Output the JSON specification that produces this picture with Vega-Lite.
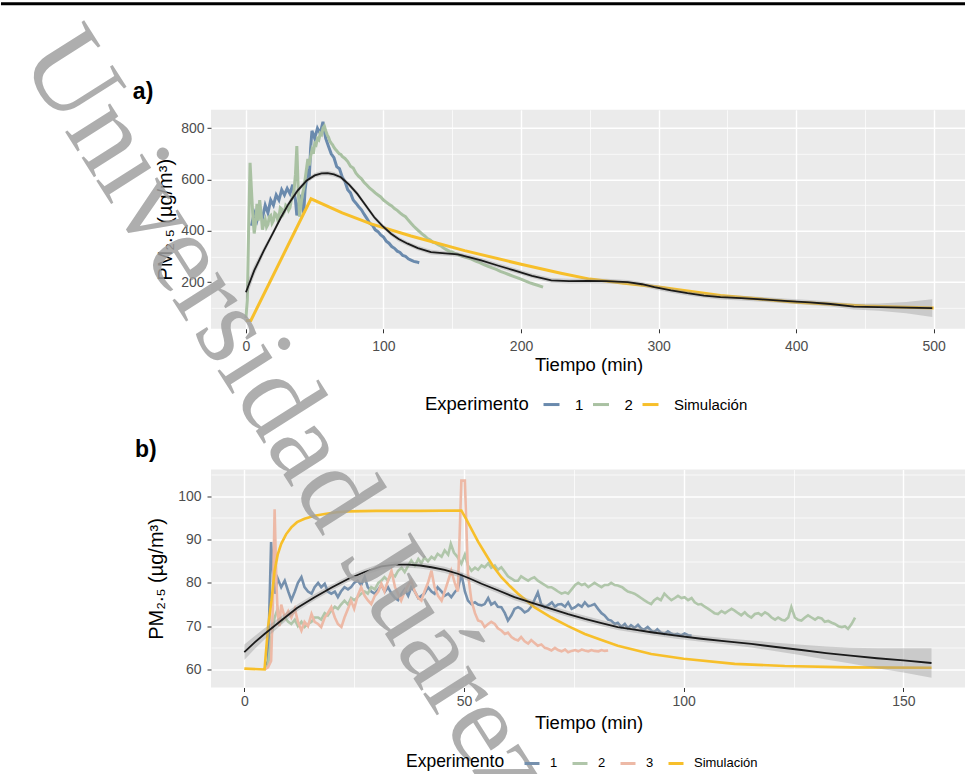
{
"$schema": "https://vega.github.io/schema/vega-lite/v6.json",
"background": "white",
"padding": {"left": -1, "top": 1.8, "right": 0, "bottom": 0},
"bounds": "flush",
"spacing": 140.7,
"resolve": {"scale": {"color": "independent"}, "legend": {"color": "independent"}},
"config": {
 "font": "Liberation Sans",
 "view": {"fill": "#EBEBEB", "stroke": null},
 "axis": {"domain": false, "tickColor": "#333333", "tickSize": 4, "tickWidth": 1, "labelColor": "#4D4D4D", "labelFontSize": 14, "titleFontSize": 18.5, "titleFontWeight": "normal", "titleColor": "#000000", "gridColor": "#FFFFFF", "labelOverlap": false, "labelFlush": false}
},
"datasets": {
 "a_obs": [
  {"s":"1","t":4,"v":420},{"s":"1","t":6,"v":470},{"s":"1","t":8,"v":440},{"s":"1","t":10,"v":480},{"s":"1","t":12,"v":450},{"s":"1","t":14,"v":500},{"s":"1","t":16,"v":470},{"s":"1","t":18,"v":520},{"s":"1","t":20,"v":500},{"s":"1","t":22,"v":540},{"s":"1","t":24,"v":520},{"s":"1","t":26,"v":560},{"s":"1","t":28,"v":540},{"s":"1","t":30,"v":565},{"s":"1","t":32,"v":545},{"s":"1","t":34,"v":580},{"s":"1","t":36,"v":520},{"s":"1","t":37,"v":460},{"s":"1","t":38,"v":500},{"s":"1","t":40,"v":540},{"s":"1","t":42,"v":470},{"s":"1","t":43,"v":560},{"s":"1","t":45,"v":640},{"s":"1","t":46,"v":600},{"s":"1","t":47,"v":720},{"s":"1","t":48,"v":790},{"s":"1","t":50,"v":760},{"s":"1","t":52,"v":800},{"s":"1","t":54,"v":780},{"s":"1","t":56,"v":825},{"s":"1","t":57,"v":790},{"s":"1","t":58,"v":760},{"s":"1","t":60,"v":730},{"s":"1","t":62,"v":700},{"s":"1","t":64,"v":685},{"s":"1","t":66,"v":650},{"s":"1","t":68,"v":642},{"s":"1","t":70,"v":610},{"s":"1","t":72,"v":592},{"s":"1","t":74,"v":560},{"s":"1","t":76,"v":548},{"s":"1","t":78,"v":520},{"s":"1","t":80,"v":508},{"s":"1","t":82,"v":494},{"s":"1","t":84,"v":482},{"s":"1","t":86,"v":464},{"s":"1","t":88,"v":448},{"s":"1","t":90,"v":430},{"s":"1","t":92,"v":422},{"s":"1","t":94,"v":404},{"s":"1","t":96,"v":397},{"s":"1","t":98,"v":384},{"s":"1","t":100,"v":376},{"s":"1","t":102,"v":360},{"s":"1","t":104,"v":352},{"s":"1","t":106,"v":339},{"s":"1","t":108,"v":332},{"s":"1","t":110,"v":321},{"s":"1","t":112,"v":316},{"s":"1","t":114,"v":304},{"s":"1","t":116,"v":301},{"s":"1","t":118,"v":291},{"s":"1","t":120,"v":286},{"s":"1","t":122,"v":281},{"s":"1","t":124,"v":279},{"s":"1","t":126,"v":276},
  {"s":"2","t":0,"v":60},{"s":"2","t":1,"v":130},{"s":"2","t":2,"v":420},{"s":"2","t":3,"v":665},{"s":"2","t":4,"v":560},{"s":"2","t":5,"v":460},{"s":"2","t":6,"v":390},{"s":"2","t":7,"v":430},{"s":"2","t":8,"v":505},{"s":"2","t":9,"v":440},{"s":"2","t":10,"v":520},{"s":"2","t":11,"v":470},{"s":"2","t":12,"v":405},{"s":"2","t":13,"v":430},{"s":"2","t":14,"v":445},{"s":"2","t":15,"v":415},{"s":"2","t":16,"v":425},{"s":"2","t":17,"v":455},{"s":"2","t":18,"v":460},{"s":"2","t":19,"v":430},{"s":"2","t":20,"v":440},{"s":"2","t":21,"v":470},{"s":"2","t":22,"v":465},{"s":"2","t":23,"v":445},{"s":"2","t":24,"v":455},{"s":"2","t":25,"v":490},{"s":"2","t":26,"v":485},{"s":"2","t":27,"v":465},{"s":"2","t":28,"v":475},{"s":"2","t":29,"v":500},{"s":"2","t":30,"v":495},{"s":"2","t":31,"v":480},{"s":"2","t":32,"v":490},{"s":"2","t":33,"v":520},{"s":"2","t":34,"v":535},{"s":"2","t":35,"v":560},{"s":"2","t":36,"v":620},{"s":"2","t":37,"v":730},{"s":"2","t":38,"v":560},{"s":"2","t":39,"v":455},{"s":"2","t":40,"v":500},{"s":"2","t":41,"v":540},{"s":"2","t":42,"v":565},{"s":"2","t":43,"v":600},{"s":"2","t":44,"v":640},{"s":"2","t":45,"v":680},{"s":"2","t":46,"v":655},{"s":"2","t":47,"v":690},{"s":"2","t":48,"v":715},{"s":"2","t":49,"v":700},{"s":"2","t":50,"v":740},{"s":"2","t":51,"v":735},{"s":"2","t":52,"v":760},{"s":"2","t":53,"v":755},{"s":"2","t":54,"v":780},{"s":"2","t":55,"v":775},{"s":"2","t":56,"v":800},{"s":"2","t":57,"v":808},{"s":"2","t":58,"v":790},{"s":"2","t":59,"v":775},{"s":"2","t":60,"v":765},{"s":"2","t":61,"v":750},{"s":"2","t":62,"v":742},{"s":"2","t":63,"v":735},{"s":"2","t":64,"v":725},{"s":"2","t":65,"v":718},{"s":"2","t":66,"v":712},{"s":"2","t":67,"v":705},{"s":"2","t":68,"v":700},{"s":"2","t":69,"v":698},{"s":"2","t":70,"v":690},{"s":"2","t":72,"v":682},{"s":"2","t":74,"v":670},{"s":"2","t":76,"v":652},{"s":"2","t":78,"v":645},{"s":"2","t":80,"v":625},{"s":"2","t":82,"v":612},{"s":"2","t":84,"v":603},{"s":"2","t":86,"v":588},{"s":"2","t":88,"v":578},{"s":"2","t":90,"v":566},{"s":"2","t":92,"v":558},{"s":"2","t":94,"v":548},{"s":"2","t":96,"v":540},{"s":"2","t":98,"v":532},{"s":"2","t":100,"v":520},{"s":"2","t":102,"v":512},{"s":"2","t":104,"v":504},{"s":"2","t":106,"v":497},{"s":"2","t":108,"v":487},{"s":"2","t":110,"v":480},{"s":"2","t":112,"v":470},{"s":"2","t":114,"v":462},{"s":"2","t":116,"v":455},{"s":"2","t":118,"v":442},{"s":"2","t":120,"v":430},{"s":"2","t":122,"v":418},{"s":"2","t":124,"v":408},{"s":"2","t":126,"v":398},{"s":"2","t":128,"v":388},{"s":"2","t":130,"v":380},{"s":"2","t":132,"v":370},{"s":"2","t":134,"v":364},{"s":"2","t":136,"v":355},{"s":"2","t":138,"v":352},{"s":"2","t":140,"v":345},{"s":"2","t":142,"v":340},{"s":"2","t":144,"v":332},{"s":"2","t":146,"v":326},{"s":"2","t":148,"v":320},{"s":"2","t":150,"v":318},{"s":"2","t":152,"v":312},{"s":"2","t":155,"v":306},{"s":"2","t":158,"v":300},{"s":"2","t":161,"v":295},{"s":"2","t":164,"v":290},{"s":"2","t":167,"v":282},{"s":"2","t":170,"v":276},{"s":"2","t":173,"v":268},{"s":"2","t":176,"v":262},{"s":"2","t":179,"v":256},{"s":"2","t":182,"v":250},{"s":"2","t":185,"v":242},{"s":"2","t":188,"v":236},{"s":"2","t":191,"v":230},{"s":"2","t":194,"v":224},{"s":"2","t":197,"v":218},{"s":"2","t":200,"v":212},{"s":"2","t":203,"v":205},{"s":"2","t":206,"v":198},{"s":"2","t":209,"v":193},{"s":"2","t":212,"v":188},{"s":"2","t":216,"v":181},
  {"s":"Simulación","t":0,"v":51},{"s":"Simulación","t":3.6,"v":51},{"s":"Simulación","t":47.3,"v":525},{"s":"Simulación","t":70,"v":470},{"s":"Simulación","t":91,"v":427},{"s":"Simulación","t":120,"v":380},{"s":"Simulación","t":159,"v":323},{"s":"Simulación","t":200,"v":270},{"s":"Simulación","t":229,"v":235},{"s":"Simulación","t":250,"v":212},{"s":"Simulación","t":275,"v":196},{"s":"Simulación","t":300,"v":181},{"s":"Simulación","t":345,"v":148},{"s":"Simulación","t":400,"v":122},{"s":"Simulación","t":450,"v":107},{"s":"Simulación","t":500,"v":99}
 ],
 "a_fit": [
  {"t":0,"fit":161,"lo":133,"hi":189},{"t":6,"fit":245,"lo":225,"hi":265},{"t":13,"fit":323,"lo":309,"hi":337},{"t":20,"fit":395,"lo":385,"hi":405},{"t":25.5,"fit":453,"lo":443,"hi":463},{"t":31,"fit":505,"lo":495,"hi":515},{"t":37.6,"fit":557,"lo":547,"hi":567},{"t":44,"fit":595,"lo":586,"hi":604},{"t":50,"fit":616,"lo":607,"hi":625},{"t":55,"fit":624,"lo":615,"hi":633},{"t":59.4,"fit":625,"lo":616,"hi":634},{"t":64,"fit":620,"lo":611,"hi":629},{"t":69,"fit":609,"lo":600,"hi":618},{"t":75,"fit":580,"lo":571,"hi":589},{"t":81,"fit":544,"lo":535,"hi":553},{"t":87,"fit":500,"lo":491,"hi":509},{"t":93.3,"fit":453,"lo":444,"hi":462},{"t":99,"fit":420,"lo":411,"hi":429},{"t":105.5,"fit":389,"lo":380,"hi":398},{"t":111,"fit":368,"lo":359,"hi":377},{"t":117.6,"fit":350,"lo":341,"hi":359},{"t":125,"fit":333,"lo":324,"hi":342},{"t":134.5,"fit":317,"lo":308,"hi":326},{"t":145,"fit":312,"lo":303,"hi":321},{"t":154,"fit":308,"lo":299,"hi":317},{"t":162,"fit":298,"lo":289,"hi":307},{"t":171,"fit":285,"lo":276,"hi":294},{"t":183,"fit":265,"lo":256,"hi":274},{"t":195,"fit":246,"lo":237,"hi":255},{"t":208,"fit":225,"lo":216,"hi":234},{"t":222,"fit":207,"lo":198,"hi":216},{"t":235,"fit":204,"lo":195,"hi":213},{"t":248.5,"fit":205,"lo":196,"hi":214},{"t":262,"fit":204,"lo":195,"hi":213},{"t":277.6,"fit":200,"lo":191,"hi":209},{"t":288,"fit":192,"lo":183,"hi":201},{"t":297,"fit":181,"lo":172,"hi":190},{"t":309,"fit":168,"lo":159,"hi":177},{"t":321,"fit":157,"lo":148,"hi":166},{"t":333,"fit":148,"lo":139,"hi":157},{"t":345,"fit":142,"lo":133,"hi":151},{"t":360,"fit":138,"lo":129,"hi":147},{"t":375,"fit":133,"lo":124,"hi":142},{"t":394,"fit":126,"lo":117,"hi":135},{"t":410,"fit":121,"lo":111,"hi":131},{"t":425,"fit":115,"lo":105,"hi":125},{"t":442,"fit":105,"lo":94,"hi":116},{"t":460,"fit":103,"lo":89,"hi":117},{"t":480,"fit":101,"lo":79,"hi":123},{"t":499,"fit":99,"lo":64,"hi":134}
 ],
 "b_obs": [
  {"s":"1","t":4.6,"v":60},{"s":"1","t":5.4,"v":62},{"s":"1","t":6.1,"v":89.4},{"s":"1","t":6.9,"v":77.5},{"s":"1","t":7.6,"v":81},{"s":"1","t":8.4,"v":79},{"s":"1","t":9.2,"v":80.5},{"s":"1","t":10,"v":78},{"s":"1","t":10.7,"v":76},{"s":"1","t":11.5,"v":78},{"s":"1","t":12.2,"v":80},{"s":"1","t":13,"v":81.3},{"s":"1","t":13.7,"v":79},{"s":"1","t":14.5,"v":78},{"s":"1","t":15.3,"v":77.5},{"s":"1","t":16,"v":79},{"s":"1","t":16.8,"v":80},{"s":"1","t":17.5,"v":79},{"s":"1","t":18.3,"v":79.8},{"s":"1","t":19,"v":78},{"s":"1","t":19.8,"v":77.5},{"s":"1","t":20.6,"v":78},{"s":"1","t":21.3,"v":76.7},{"s":"1","t":22,"v":78},{"s":"1","t":22.8,"v":79},{"s":"1","t":23.6,"v":78.5},{"s":"1","t":24.3,"v":79},{"s":"1","t":25,"v":80},{"s":"1","t":25.8,"v":80.5},{"s":"1","t":26.6,"v":79.5},{"s":"1","t":27.4,"v":81.3},{"s":"1","t":28.1,"v":79},{"s":"1","t":28.9,"v":78},{"s":"1","t":29.7,"v":77.5},{"s":"1","t":30.5,"v":78.5},{"s":"1","t":31.2,"v":79.5},{"s":"1","t":32,"v":78},{"s":"1","t":32.7,"v":79},{"s":"1","t":33.5,"v":77.5},{"s":"1","t":34.3,"v":76.5},{"s":"1","t":35,"v":76},{"s":"1","t":35.8,"v":77.5},{"s":"1","t":36.5,"v":78.5},{"s":"1","t":37.3,"v":77},{"s":"1","t":38,"v":79},{"s":"1","t":38.8,"v":78},{"s":"1","t":39.6,"v":76.5},{"s":"1","t":40.3,"v":77},{"s":"1","t":41,"v":77.5},{"s":"1","t":41.8,"v":79},{"s":"1","t":42.6,"v":78},{"s":"1","t":43.3,"v":77.5},{"s":"1","t":44,"v":79},{"s":"1","t":44.9,"v":78},{"s":"1","t":45.6,"v":77},{"s":"1","t":46.4,"v":77.5},{"s":"1","t":47.1,"v":76.7},{"s":"1","t":48,"v":78},{"s":"1","t":48.6,"v":78.5},{"s":"1","t":49.4,"v":82.1},{"s":"1","t":50.2,"v":78},{"s":"1","t":50.9,"v":75.9},{"s":"1","t":51.7,"v":75.1},{"s":"1","t":52.5,"v":75.5},{"s":"1","t":53.2,"v":75},{"s":"1","t":54,"v":74.8},{"s":"1","t":54.7,"v":75.1},{"s":"1","t":55.5,"v":76.5},{"s":"1","t":56.2,"v":75},{"s":"1","t":57,"v":75.5},{"s":"1","t":57.7,"v":74.5},{"s":"1","t":58.5,"v":74.4},{"s":"1","t":59.3,"v":73},{"s":"1","t":60,"v":71.3},{"s":"1","t":60.8,"v":72.5},{"s":"1","t":61.5,"v":74},{"s":"1","t":62.3,"v":74.4},{"s":"1","t":63,"v":74},{"s":"1","t":63.8,"v":73.2},{"s":"1","t":64.6,"v":73.6},{"s":"1","t":65.3,"v":74.5},{"s":"1","t":66,"v":76},{"s":"1","t":66.8,"v":77.8},{"s":"1","t":67.6,"v":75},{"s":"1","t":68.4,"v":74.4},{"s":"1","t":69.1,"v":74.8},{"s":"1","t":70,"v":75.5},{"s":"1","t":70.7,"v":74.5},{"s":"1","t":71.4,"v":75},{"s":"1","t":72.2,"v":75.1},{"s":"1","t":73,"v":74.5},{"s":"1","t":73.7,"v":75.5},{"s":"1","t":74.5,"v":74},{"s":"1","t":75.3,"v":74.4},{"s":"1","t":76,"v":75},{"s":"1","t":76.8,"v":74.5},{"s":"1","t":77.5,"v":75.5},{"s":"1","t":78.3,"v":74.6},{"s":"1","t":79,"v":74.8},{"s":"1","t":79.7,"v":75.1},{"s":"1","t":80.5,"v":74},{"s":"1","t":81.3,"v":73},{"s":"1","t":82,"v":72.5},{"s":"1","t":82.8,"v":71.5},{"s":"1","t":83.5,"v":71.3},{"s":"1","t":84.3,"v":70.5},{"s":"1","t":85,"v":70.8},{"s":"1","t":85.8,"v":69.8},{"s":"1","t":86.6,"v":70.5},{"s":"1","t":87.3,"v":69.5},{"s":"1","t":88,"v":70.2},{"s":"1","t":88.8,"v":69.6},{"s":"1","t":89.6,"v":70.3},{"s":"1","t":90.3,"v":69.5},{"s":"1","t":91,"v":69.2},{"s":"1","t":91.8,"v":69.8},{"s":"1","t":92.6,"v":69},{"s":"1","t":93.3,"v":68.6},{"s":"1","t":94,"v":69.3},{"s":"1","t":94.8,"v":68.5},{"s":"1","t":95.6,"v":68.2},{"s":"1","t":96.4,"v":68.8},{"s":"1","t":97,"v":68.4},{"s":"1","t":97.8,"v":68},{"s":"1","t":98.6,"v":68.2},{"s":"1","t":99.4,"v":67.8},{"s":"1","t":100.2,"v":68.3},{"s":"1","t":101,"v":67.9},{"s":"1","t":101.8,"v":67.8},
  {"s":"2","t":4.6,"v":60},{"s":"2","t":5.4,"v":61},{"s":"2","t":6.2,"v":68},{"s":"2","t":6.9,"v":72},{"s":"2","t":7.6,"v":74},{"s":"2","t":8.4,"v":71},{"s":"2","t":9.2,"v":72},{"s":"2","t":10,"v":71},{"s":"2","t":10.7,"v":70.5},{"s":"2","t":11.5,"v":71.5},{"s":"2","t":12.2,"v":70},{"s":"2","t":13,"v":71},{"s":"2","t":13.7,"v":69.8},{"s":"2","t":14.5,"v":70.5},{"s":"2","t":15.3,"v":71},{"s":"2","t":16,"v":72},{"s":"2","t":16.8,"v":72},{"s":"2","t":17.5,"v":71.5},{"s":"2","t":18.3,"v":73},{"s":"2","t":19,"v":72.5},{"s":"2","t":19.8,"v":73.6},{"s":"2","t":20.6,"v":74.5},{"s":"2","t":21.3,"v":74},{"s":"2","t":22,"v":75},{"s":"2","t":22.8,"v":75.9},{"s":"2","t":23.6,"v":75},{"s":"2","t":24.3,"v":76.5},{"s":"2","t":25,"v":76},{"s":"2","t":25.8,"v":76.7},{"s":"2","t":26.6,"v":77.5},{"s":"2","t":27.4,"v":78},{"s":"2","t":28.1,"v":77.5},{"s":"2","t":28.9,"v":79},{"s":"2","t":29.7,"v":78.5},{"s":"2","t":30.5,"v":80},{"s":"2","t":31.2,"v":80.5},{"s":"2","t":31.9,"v":81.3},{"s":"2","t":32.7,"v":80.5},{"s":"2","t":33.5,"v":82},{"s":"2","t":34.3,"v":81.5},{"s":"2","t":35,"v":82.8},{"s":"2","t":35.8,"v":83.5},{"s":"2","t":36.5,"v":82.5},{"s":"2","t":37.3,"v":84},{"s":"2","t":38,"v":85.2},{"s":"2","t":38.8,"v":84},{"s":"2","t":39.6,"v":85.5},{"s":"2","t":40.3,"v":84.5},{"s":"2","t":41,"v":85.9},{"s":"2","t":41.8,"v":85},{"s":"2","t":42.6,"v":86},{"s":"2","t":43.3,"v":85.5},{"s":"2","t":44,"v":86.7},{"s":"2","t":44.9,"v":86},{"s":"2","t":45.6,"v":87.5},{"s":"2","t":46.4,"v":86.5},{"s":"2","t":47,"v":89},{"s":"2","t":47.7,"v":87},{"s":"2","t":48.5,"v":86},{"s":"2","t":49.4,"v":84.4},{"s":"2","t":50.2,"v":86.5},{"s":"2","t":50.9,"v":84},{"s":"2","t":51.7,"v":82.8},{"s":"2","t":52.5,"v":83.5},{"s":"2","t":53.2,"v":83},{"s":"2","t":54,"v":84},{"s":"2","t":54.7,"v":83.6},{"s":"2","t":55.5,"v":84.5},{"s":"2","t":56.2,"v":83.5},{"s":"2","t":57,"v":84},{"s":"2","t":57.7,"v":83},{"s":"2","t":58.5,"v":83.6},{"s":"2","t":59.3,"v":82.5},{"s":"2","t":60,"v":81.5},{"s":"2","t":60.8,"v":81},{"s":"2","t":61.5,"v":80.5},{"s":"2","t":62.3,"v":80.5},{"s":"2","t":63,"v":81.5},{"s":"2","t":63.8,"v":81},{"s":"2","t":64.6,"v":80.5},{"s":"2","t":65.3,"v":81},{"s":"2","t":66,"v":81.3},{"s":"2","t":66.8,"v":80.5},{"s":"2","t":67.6,"v":80},{"s":"2","t":68.4,"v":79.5},{"s":"2","t":69.1,"v":79},{"s":"2","t":69.9,"v":79},{"s":"2","t":70.7,"v":78.5},{"s":"2","t":71.4,"v":78},{"s":"2","t":72.2,"v":77.5},{"s":"2","t":73,"v":77.8},{"s":"2","t":73.7,"v":77.5},{"s":"2","t":74.5,"v":78.5},{"s":"2","t":75.3,"v":79.5},{"s":"2","t":76,"v":80},{"s":"2","t":76.8,"v":79.5},{"s":"2","t":77.5,"v":79.8},{"s":"2","t":78.3,"v":79},{"s":"2","t":79,"v":79.5},{"s":"2","t":79.7,"v":80},{"s":"2","t":80.5,"v":79.5},{"s":"2","t":81.3,"v":79},{"s":"2","t":82,"v":79.5},{"s":"2","t":82.8,"v":79.5},{"s":"2","t":83.5,"v":80},{"s":"2","t":84.3,"v":79.5},{"s":"2","t":85,"v":79.4},{"s":"2","t":86,"v":79},{"s":"2","t":86.6,"v":78.5},{"s":"2","t":87.3,"v":78},{"s":"2","t":88,"v":77.8},{"s":"2","t":88.8,"v":77.5},{"s":"2","t":89.6,"v":77},{"s":"2","t":90.3,"v":76.5},{"s":"2","t":91,"v":76},{"s":"2","t":91.8,"v":75.5},{"s":"2","t":92.6,"v":75.1},{"s":"2","t":93.3,"v":76},{"s":"2","t":94,"v":76.5},{"s":"2","t":94.8,"v":76},{"s":"2","t":95.6,"v":77.5},{"s":"2","t":96.4,"v":76.7},{"s":"2","t":97.2,"v":76},{"s":"2","t":98,"v":76.5},{"s":"2","t":98.7,"v":77},{"s":"2","t":99.5,"v":76.5},{"s":"2","t":100.2,"v":76.7},{"s":"2","t":101,"v":76},{"s":"2","t":101.8,"v":76.5},{"s":"2","t":102.5,"v":75.5},{"s":"2","t":103.3,"v":75},{"s":"2","t":104,"v":75.1},{"s":"2","t":104.8,"v":74.5},{"s":"2","t":105.6,"v":74},{"s":"2","t":106.3,"v":73.5},{"s":"2","t":107,"v":73},{"s":"2","t":107.8,"v":72.8},{"s":"2","t":108.6,"v":73.5},{"s":"2","t":109.4,"v":73},{"s":"2","t":110.1,"v":73.5},{"s":"2","t":110.9,"v":74},{"s":"2","t":111.6,"v":73.6},{"s":"2","t":112.4,"v":73},{"s":"2","t":113.1,"v":72.5},{"s":"2","t":113.9,"v":73.2},{"s":"2","t":114.6,"v":72.5},{"s":"2","t":115.4,"v":72},{"s":"2","t":116.2,"v":72.8},{"s":"2","t":117,"v":73},{"s":"2","t":117.7,"v":72.5},{"s":"2","t":118.5,"v":73.2},{"s":"2","t":119.2,"v":72.8},{"s":"2","t":120,"v":72},{"s":"2","t":120.8,"v":71.5},{"s":"2","t":121.5,"v":72},{"s":"2","t":122.3,"v":71.5},{"s":"2","t":123,"v":71.3},{"s":"2","t":123.8,"v":72},{"s":"2","t":124.5,"v":74.4},{"s":"2","t":125.3,"v":72},{"s":"2","t":126,"v":71.5},{"s":"2","t":126.8,"v":71.3},{"s":"2","t":127.6,"v":72},{"s":"2","t":128.3,"v":72.5},{"s":"2","t":129.1,"v":72},{"s":"2","t":129.9,"v":71.5},{"s":"2","t":130.6,"v":72},{"s":"2","t":131.4,"v":71.8},{"s":"2","t":132.1,"v":71},{"s":"2","t":132.9,"v":71.2},{"s":"2","t":133.7,"v":70.8},{"s":"2","t":134.4,"v":70.5},{"s":"2","t":135.2,"v":70},{"s":"2","t":136,"v":69.8},{"s":"2","t":136.7,"v":70},{"s":"2","t":137.4,"v":69.4},{"s":"2","t":138.2,"v":70.5},{"s":"2","t":139,"v":72},
  {"s":"3","t":4.6,"v":60},{"s":"3","t":5.4,"v":60.5},{"s":"3","t":6.1,"v":62},{"s":"3","t":6.5,"v":75},{"s":"3","t":6.9,"v":97},{"s":"3","t":7.3,"v":80},{"s":"3","t":7.6,"v":72.8},{"s":"3","t":8,"v":70},{"s":"3","t":8.4,"v":75},{"s":"3","t":9.2,"v":72},{"s":"3","t":10,"v":73.5},{"s":"3","t":10.7,"v":72},{"s":"3","t":11.5,"v":74},{"s":"3","t":12.2,"v":71},{"s":"3","t":13,"v":69},{"s":"3","t":13.7,"v":71},{"s":"3","t":14.5,"v":70},{"s":"3","t":15.3,"v":72.8},{"s":"3","t":16,"v":71},{"s":"3","t":16.8,"v":70.5},{"s":"3","t":17.5,"v":69.8},{"s":"3","t":18.3,"v":72},{"s":"3","t":19,"v":73},{"s":"3","t":19.8,"v":74.4},{"s":"3","t":20.6,"v":72},{"s":"3","t":21.3,"v":70.5},{"s":"3","t":22.1,"v":69.8},{"s":"3","t":22.8,"v":72},{"s":"3","t":23.6,"v":74},{"s":"3","t":24.3,"v":75.9},{"s":"3","t":25,"v":74},{"s":"3","t":25.8,"v":77},{"s":"3","t":26.6,"v":79},{"s":"3","t":27.4,"v":77},{"s":"3","t":28.1,"v":76},{"s":"3","t":28.9,"v":75.1},{"s":"3","t":29.7,"v":77},{"s":"3","t":30.5,"v":78},{"s":"3","t":31.2,"v":79.8},{"s":"3","t":31.9,"v":78},{"s":"3","t":32.7,"v":80.5},{"s":"3","t":33.5,"v":82.8},{"s":"3","t":34.3,"v":79},{"s":"3","t":35,"v":77.5},{"s":"3","t":35.7,"v":75.9},{"s":"3","t":36.5,"v":78},{"s":"3","t":37.3,"v":79.5},{"s":"3","t":38,"v":80.5},{"s":"3","t":38.8,"v":78},{"s":"3","t":39.6,"v":76.5},{"s":"3","t":40.3,"v":75.9},{"s":"3","t":41,"v":78},{"s":"3","t":41.8,"v":80},{"s":"3","t":42.6,"v":82.8},{"s":"3","t":43.3,"v":79},{"s":"3","t":44.1,"v":77},{"s":"3","t":44.9,"v":75.9},{"s":"3","t":45.6,"v":78},{"s":"3","t":46.4,"v":80.5},{"s":"3","t":47.1,"v":82.8},{"s":"3","t":47.9,"v":80},{"s":"3","t":48.6,"v":78},{"s":"3","t":49.4,"v":103.6},{"s":"3","t":50.2,"v":103.6},{"s":"3","t":50.9,"v":82},{"s":"3","t":51.7,"v":75.9},{"s":"3","t":52.5,"v":73},{"s":"3","t":53.2,"v":71.3},{"s":"3","t":54,"v":71},{"s":"3","t":54.7,"v":69.8},{"s":"3","t":55.5,"v":70.5},{"s":"3","t":56.2,"v":71},{"s":"3","t":57,"v":70.5},{"s":"3","t":57.7,"v":69.5},{"s":"3","t":58.5,"v":69},{"s":"3","t":59.3,"v":68.2},{"s":"3","t":60,"v":68.5},{"s":"3","t":60.8,"v":67.5},{"s":"3","t":61.5,"v":67},{"s":"3","t":62.3,"v":66.7},{"s":"3","t":63,"v":67.5},{"s":"3","t":63.8,"v":66.5},{"s":"3","t":64.6,"v":66},{"s":"3","t":65.3,"v":66.8},{"s":"3","t":66,"v":66.2},{"s":"3","t":66.8,"v":65.5},{"s":"3","t":67.6,"v":65.8},{"s":"3","t":68.4,"v":65},{"s":"3","t":69.1,"v":64.8},{"s":"3","t":69.9,"v":64.4},{"s":"3","t":70.7,"v":65},{"s":"3","t":71.4,"v":64.5},{"s":"3","t":72.2,"v":64.2},{"s":"3","t":73,"v":64.6},{"s":"3","t":73.7,"v":64},{"s":"3","t":74.5,"v":64.3},{"s":"3","t":75.3,"v":64.5},{"s":"3","t":76,"v":64.2},{"s":"3","t":76.8,"v":64.6},{"s":"3","t":77.5,"v":64.4},{"s":"3","t":78.3,"v":64.2},{"s":"3","t":79,"v":64.5},{"s":"3","t":79.7,"v":64.3},{"s":"3","t":80.6,"v":64.2},{"s":"3","t":81.3,"v":64.5},{"s":"3","t":82,"v":64.3},{"s":"3","t":82.8,"v":64.4},
  {"s":"Simulación","t":0,"v":60.2},{"s":"Simulación","t":4.6,"v":60},{"s":"Simulación","t":5.4,"v":69.8},{"s":"Simulación","t":6.2,"v":76},{"s":"Simulación","t":6.9,"v":82.8},{"s":"Simulación","t":7.6,"v":86.5},{"s":"Simulación","t":8.4,"v":89},{"s":"Simulación","t":9.5,"v":91.2},{"s":"Simulación","t":10.7,"v":92.8},{"s":"Simulación","t":12,"v":94},{"s":"Simulación","t":13.7,"v":94.8},{"s":"Simulación","t":16,"v":95.5},{"s":"Simulación","t":18.3,"v":95.9},{"s":"Simulación","t":21,"v":96.3},{"s":"Simulación","t":23.6,"v":96.5},{"s":"Simulación","t":30,"v":96.6},{"s":"Simulación","t":40,"v":96.6},{"s":"Simulación","t":49.4,"v":96.7},{"s":"Simulación","t":50.5,"v":94.7},{"s":"Simulación","t":51.7,"v":92.4},{"s":"Simulación","t":53.2,"v":89.5},{"s":"Simulación","t":54.7,"v":87},{"s":"Simulación","t":56.5,"v":84},{"s":"Simulación","t":58.5,"v":81.3},{"s":"Simulación","t":60.5,"v":79.2},{"s":"Simulación","t":62.3,"v":77.5},{"s":"Simulación","t":66,"v":74.4},{"s":"Simulación","t":69.9,"v":72},{"s":"Simulación","t":73.7,"v":70},{"s":"Simulación","t":77.5,"v":68.2},{"s":"Simulación","t":81.3,"v":66.8},{"s":"Simulación","t":85,"v":65.5},{"s":"Simulación","t":92.6,"v":63.6},{"s":"Simulación","t":100,"v":62.5},{"s":"Simulación","t":111.6,"v":61.3},{"s":"Simulación","t":123,"v":60.8},{"s":"Simulación","t":138,"v":60.5},{"s":"Simulación","t":156.4,"v":60.4}
 ],
 "b_fit": [
  {"t":0,"fit":64,"lo":62.2,"hi":65.8},{"t":2.3,"fit":66.2,"lo":64.7,"hi":67.7},{"t":4.6,"fit":68.2,"lo":66.9,"hi":69.5},{"t":8.4,"fit":71.3,"lo":70.3,"hi":72.3},{"t":12,"fit":74.2,"lo":73.4,"hi":75},{"t":16,"fit":76.7,"lo":76,"hi":77.4},{"t":20,"fit":79,"lo":78.3,"hi":79.7},{"t":23.6,"fit":80.9,"lo":80.2,"hi":81.6},{"t":27.4,"fit":82.5,"lo":81.8,"hi":83.2},{"t":31.2,"fit":83.8,"lo":83.1,"hi":84.5},{"t":34.3,"fit":84.2,"lo":83.5,"hi":84.9},{"t":37.3,"fit":84.2,"lo":83.5,"hi":84.9},{"t":40,"fit":84,"lo":83.3,"hi":84.7},{"t":42.6,"fit":83.6,"lo":82.9,"hi":84.3},{"t":45.6,"fit":83,"lo":82.3,"hi":83.7},{"t":48.6,"fit":82.1,"lo":81.4,"hi":82.8},{"t":51.3,"fit":81,"lo":80.3,"hi":81.7},{"t":54,"fit":79.8,"lo":79.1,"hi":80.5},{"t":57.7,"fit":78.3,"lo":77.6,"hi":79},{"t":61.5,"fit":76.7,"lo":76,"hi":77.4},{"t":65.7,"fit":75.3,"lo":74.6,"hi":76},{"t":69.9,"fit":74,"lo":73.3,"hi":74.7},{"t":73.7,"fit":72.8,"lo":72.1,"hi":73.5},{"t":77.5,"fit":71.7,"lo":71,"hi":72.4},{"t":81.3,"fit":70.7,"lo":70,"hi":71.4},{"t":85,"fit":69.8,"lo":69.1,"hi":70.5},{"t":88.8,"fit":69.2,"lo":68.5,"hi":69.9},{"t":92.6,"fit":68.6,"lo":67.9,"hi":69.3},{"t":98.3,"fit":67.8,"lo":67.1,"hi":68.5},{"t":104,"fit":67.1,"lo":66.4,"hi":67.8},{"t":109.7,"fit":66.5,"lo":65.8,"hi":67.2},{"t":115.4,"fit":65.9,"lo":65.1,"hi":66.7},{"t":121,"fit":65.2,"lo":64.2,"hi":66.2},{"t":126.8,"fit":64.5,"lo":63.3,"hi":65.7},{"t":132.4,"fit":63.8,"lo":62.3,"hi":65.3},{"t":138,"fit":63.2,"lo":61.4,"hi":65},{"t":144,"fit":62.6,"lo":60.3,"hi":64.9},{"t":150,"fit":62.1,"lo":59.3,"hi":64.9},{"t":156.4,"fit":61.5,"lo":58.1,"hi":64.9}
 ]
},
"vconcat": [
 {
  "width": 755, "height": 219,
  "layer": [
   {"data": {"name": "a_obs"},
    "mark": {"type": "line", "strokeWidth": 3},
    "encoding": {
     "x": {"field": "t", "type": "quantitative", "scale": {"domain": [-25.4, 523.5], "nice": false, "zero": false},
       "axis": {"title": "Tiempo (min)", "values": [0,50,100,150,200,250,300,350,400,450,500], "tickCount": 50, "labelOverlap": false, "labelExpr": "datum.value % 100 === 0 ? datum.label : ''", "tickOpacity": {"condition": {"test": "datum.value % 100 !== 0", "value": 0}, "value": 1}, "gridWidth": {"condition": {"test": "datum.value % 100 !== 0", "value": 0.7}, "value": 1.4}, "labelPadding": 7, "titlePadding": 2}},
     "y": {"field": "v", "type": "quantitative", "scale": {"domain": [18.4, 871.7], "nice": false, "zero": false},
       "axis": {"title": "PM₂.₅ (µg/m³)", "titleFontSize": 20, "values": [100,200,300,400,500,600,700,800], "tickCount": 50, "labelOverlap": false, "labelExpr": "datum.value % 200 === 0 ? datum.label : ''", "tickOpacity": {"condition": {"test": "datum.value % 200 !== 0", "value": 0}, "value": 1}, "gridWidth": {"condition": {"test": "datum.value % 200 !== 0", "value": 0.7}, "value": 1.4}, "labelPadding": 3, "titlePadding": 5}},
     "color": {"field": "s", "type": "nominal", "scale": {"domain": ["1", "2", "Simulación"], "range": ["#6A8AAD", "#A9C1A2", "#F7BF2A"]},
       "legend": {"title": "Experimento", "orient": "none", "legendX": 214, "legendY": 285, "direction": "horizontal", "titleOrient": "left", "titleFontSize": 18.5, "titleFontWeight": "normal", "titleColor": "#000000", "labelFontSize": 15, "labelColor": "#000000", "symbolType": "stroke", "symbolSize": 256, "symbolStrokeWidth": 3, "labelOffset": 14, "columnPadding": 2.5, "titlePadding": 13}}
    }},
   {"data": {"name": "a_fit"},
    "mark": {"type": "area", "color": "#999999", "opacity": 0.4},
    "encoding": {
     "x": {"field": "t", "type": "quantitative", "scale": {"domain": [-25.4, 523.5], "nice": false, "zero": false}, "title": "Tiempo (min)"},
     "y": {"field": "lo", "type": "quantitative", "scale": {"domain": [18.4, 871.7], "nice": false, "zero": false}, "title": "PM₂.₅ (µg/m³)"},
     "y2": {"field": "hi"}
    }},
   {"data": {"name": "a_fit"},
    "mark": {"type": "line", "color": "#1A1A1A", "strokeWidth": 1.8},
    "encoding": {
     "x": {"field": "t", "type": "quantitative", "scale": {"domain": [-25.4, 523.5], "nice": false, "zero": false}, "title": "Tiempo (min)"},
     "y": {"field": "fit", "type": "quantitative", "scale": {"domain": [18.4, 871.7], "nice": false, "zero": false}, "title": "PM₂.₅ (µg/m³)"}
    }},
   {"data": {"values": [{"label": "a)"}]},
    "mark": {"type": "text", "align": "left", "baseline": "alphabetic", "fontSize": 23, "fontWeight": "bold", "color": "#000000"},
    "encoding": {
     "x": {"datum": -82.2, "type": "quantitative", "scale": {"domain": [-25.4, 523.5], "nice": false, "zero": false}, "title": "Tiempo (min)"},
     "y": {"datum": 915.7, "type": "quantitative", "scale": {"domain": [18.4, 871.7], "nice": false, "zero": false}, "title": "PM₂.₅ (µg/m³)"},
     "text": {"field": "label"}
    }},
   {"data": {"values": [{}]},
    "mark": {"type": "rule", "color": "#000000", "strokeWidth": 3},
    "encoding": {
     "x": {"datum": -178.1, "type": "quantitative", "scale": {"domain": [-25.4, 523.5], "nice": false, "zero": false}, "title": "Tiempo (min)"},
     "x2": {"datum": 523.5},
     "y": {"datum": 1284.7, "type": "quantitative", "scale": {"domain": [18.4, 871.7], "nice": false, "zero": false}, "title": "PM₂.₅ (µg/m³)"}
    }}
  ]
 },
 {
  "width": 755, "height": 218,
  "layer": [
   {"data": {"name": "b_obs"},
    "mark": {"type": "line", "strokeWidth": 2.6},
    "encoding": {
     "x": {"field": "t", "type": "quantitative", "scale": {"domain": [-7.58, 164.25], "nice": false, "zero": false},
       "axis": {"title": "Tiempo (min)", "values": [0,25,50,75,100,125,150], "tickCount": 50, "labelOverlap": false, "labelExpr": "datum.value % 50 === 0 ? datum.label : ''", "tickOpacity": {"condition": {"test": "datum.value % 50 !== 0", "value": 0}, "value": 1}, "gridWidth": {"condition": {"test": "datum.value % 50 !== 0", "value": 0.7}, "value": 1.4}, "labelPadding": 3.5, "titlePadding": 5}},
     "y": {"field": "v", "type": "quantitative", "scale": {"domain": [55.85, 106.16], "nice": false, "zero": false},
       "axis": {"title": "PM₂.₅ (µg/m³)", "titleFontSize": 20, "values": [60,65,70,75,80,85,90,95,100,105], "tickCount": 50, "labelOverlap": false, "labelExpr": "datum.value % 10 === 0 ? datum.label : ''", "tickOpacity": {"condition": {"test": "datum.value % 10 !== 0", "value": 0}, "value": 1}, "gridWidth": {"condition": {"test": "datum.value % 10 !== 0", "value": 0.7}, "value": 1.4}, "labelPadding": 6, "titlePadding": 11}},
     "color": {"field": "s", "type": "nominal", "scale": {"domain": ["1", "2", "3", "Simulación"], "range": ["#7590AD", "#B0C6AA", "#EDB9A6", "#F7BF2A"]},
       "legend": {"title": "Experimento", "orient": "none", "legendX": 195, "legendY": 285, "direction": "horizontal", "titleOrient": "left", "titleFontSize": 17.5, "titleFontWeight": "normal", "titleColor": "#000000", "labelFontSize": 13, "labelColor": "#000000", "symbolType": "stroke", "symbolSize": 225, "symbolStrokeWidth": 3, "labelOffset": 9, "columnPadding": 8, "titlePadding": 18}}
    }},
   {"data": {"name": "b_fit"},
    "mark": {"type": "area", "color": "#999999", "opacity": 0.4},
    "encoding": {
     "x": {"field": "t", "type": "quantitative", "scale": {"domain": [-7.58, 164.25], "nice": false, "zero": false}, "title": "Tiempo (min)"},
     "y": {"field": "lo", "type": "quantitative", "scale": {"domain": [55.85, 106.16], "nice": false, "zero": false}, "title": "PM₂.₅ (µg/m³)"},
     "y2": {"field": "hi"}
    }},
   {"data": {"name": "b_fit"},
    "mark": {"type": "line", "color": "#1A1A1A", "strokeWidth": 1.8},
    "encoding": {
     "x": {"field": "t", "type": "quantitative", "scale": {"domain": [-7.58, 164.25], "nice": false, "zero": false}, "title": "Tiempo (min)"},
     "y": {"field": "fit", "type": "quantitative", "scale": {"domain": [55.85, 106.16], "nice": false, "zero": false}, "title": "PM₂.₅ (µg/m³)"}
    }},
   {"data": {"values": [{"label": "b)"}]},
    "mark": {"type": "text", "align": "left", "baseline": "alphabetic", "fontSize": 23, "fontWeight": "bold", "color": "#000000"},
    "encoding": {
     "x": {"datum": -24.9, "type": "quantitative", "scale": {"domain": [-7.58, 164.25], "nice": false, "zero": false}, "title": "Tiempo (min)"},
     "y": {"datum": 108.93, "type": "quantitative", "scale": {"domain": [55.85, 106.16], "nice": false, "zero": false}, "title": "PM₂.₅ (µg/m³)"},
     "text": {"field": "label"}
    }},
   {"data": {"values": [{"label": "Universidad Juárez"}]},
    "mark": {"type": "text", "align": "center", "baseline": "middle", "font": "Liberation Serif", "fontSize": 116, "angle": 57.5, "color": "#A0A0A0", "opacity": 0.85},
    "encoding": {
     "x": {"datum": 9.95, "type": "quantitative", "scale": {"domain": [-7.58, 164.25], "nice": false, "zero": false}, "title": "Tiempo (min)"},
     "y": {"datum": 118.39, "type": "quantitative", "scale": {"domain": [55.85, 106.16], "nice": false, "zero": false}, "title": "PM₂.₅ (µg/m³)"},
     "text": {"field": "label"}
    }}
  ]
 }
]
}
